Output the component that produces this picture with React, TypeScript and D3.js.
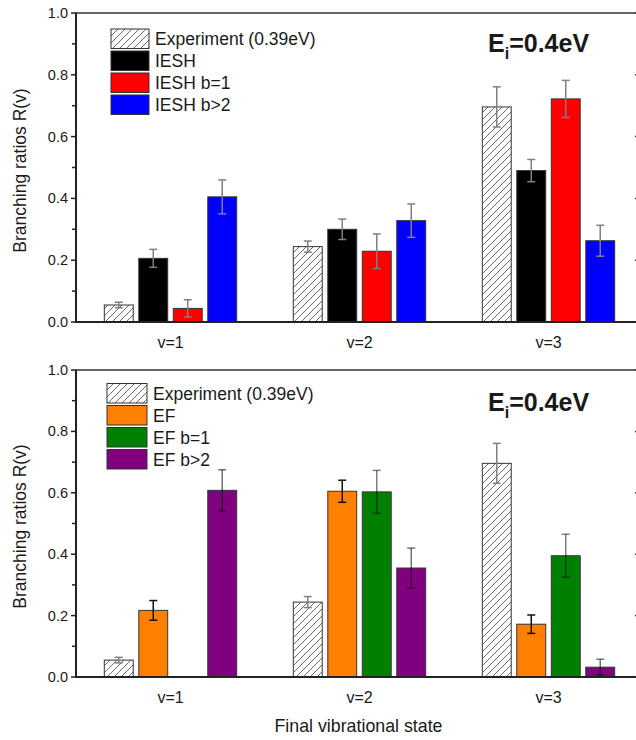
import React from "react";
import * as d3 from "d3";

const categories = ["v=1", "v=2", "v=3"];
const yTicks = [0, 0.2, 0.4, 0.6, 0.8, 1.0];
const yMinorTicks = [0.1, 0.3, 0.5, 0.7, 0.9];

const expValues = [0.055, 0.244, 0.696];
const expErr = [0.009, 0.018, 0.065];

const ieshValues = [0.206, 0.3, 0.49];
const ieshErr = [0.029, 0.033, 0.036];
const ieshB1Values = [0.044, 0.229, 0.722];
const ieshB1Err = [0.028, 0.056, 0.06];
const ieshB2Values = [0.405, 0.328, 0.263];
const ieshB2Err = [0.055, 0.054, 0.05];

const efValues = [0.217, 0.605, 0.172];
const efErr = [0.032, 0.036, 0.03];
const efB1Values: (number | null)[] = [null, 0.603, 0.395];
const efB1Err = [0, 0.07, 0.07];
const efB2Values = [0.608, 0.355, 0.032];
const efB2Err = [0.067, 0.065, 0.026];

const topLabels = ["Experiment (0.39eV)", "IESH", "IESH b=1", "IESH b>2"];
const bottomLabels = ["Experiment (0.39eV)", "EF", "EF b=1", "EF b>2"];

const FONT = "'Liberation Sans', Arial, sans-serif";
const TXT = "#1a1a1a";

type Series = {
  name: string;
  values: (number | null)[];
  err: number[];
  fill: string;
  errColor: string;
  errOpacity: number;
};

const x = d3.scaleLinear().domain([0.5, 3.5]).range([76, 643]);
const offsets = [-1.5, -0.5, 0.5, 1.5];
const step = 0.1825;
const barW = 0.153;

function Panel({
  top,
  bottom,
  series,
  legendX,
  legendY,
  legendW,
  eiY,
  showXTitle,
}: {
  top: number;
  bottom: number;
  series: Series[];
  legendX: number;
  legendY: number;
  legendW: number;
  eiY: number;
  showXTitle: boolean;
}) {
  const y = d3.scaleLinear().domain([0, 1]).range([bottom, top]);
  const left = 76;
  const right = 641;
  const bw = x(1 + barW) - x(1);
  return (
    <g>
      {/* bars */}
      {series.map((s, si) =>
        s.values.map((v, ci) => {
          if (v === null) return null;
          const cx = x(ci + 1 + offsets[si] * step);
          return (
            <rect
              key={`b${si}-${ci}`}
              x={cx - bw / 2}
              y={y(v)}
              width={bw}
              height={y(0) - y(v)}
              fill={s.fill}
              stroke="#333"
              strokeWidth={1}
            />
          );
        })
      )}
      {/* error bars */}
      {series.map((s, si) =>
        s.values.map((v, ci) => {
          if (v === null) return null;
          const cx = x(ci + 1 + offsets[si] * step);
          const e = s.err[ci];
          const y1 = y(v + e);
          const y2 = y(Math.max(0, v - e));
          return (
            <g
              key={`e${si}-${ci}`}
              stroke={s.errColor}
              strokeOpacity={s.errOpacity}
              strokeWidth={1.5}
            >
              <line x1={cx} x2={cx} y1={y1} y2={y2} />
              <line x1={cx - 4} x2={cx + 4} y1={y1} y2={y1} />
              <line x1={cx - 4} x2={cx + 4} y1={y2} y2={y2} />
            </g>
          );
        })
      )}
      {/* axes */}
      <line x1={left} x2={left} y1={top} y2={bottom} stroke="#222" strokeWidth={2} />
      <line x1={left - 1} x2={right} y1={bottom} y2={bottom} stroke="#222" strokeWidth={2} />
      <line x1={left - 1} x2={right} y1={top} y2={top} stroke="#333" strokeWidth={1.5} />
      <line x1={right} x2={right} y1={top} y2={bottom} stroke="#333" strokeWidth={1.5} />
      {yTicks.map((t) => (
        <g key={`t${t}`}>
          <line x1={left - 5} x2={left} y1={y(t)} y2={y(t)} stroke="#222" strokeWidth={1.5} />
          <line x1={right - 6} x2={right} y1={y(t)} y2={y(t)} stroke="#333" strokeWidth={1.5} />
          <text
            x={68}
            y={y(t)}
            dy="0.35em"
            textAnchor="end"
            fontFamily={FONT}
            fontSize={14.5}
            fill={TXT}
          >
            {d3.format(".1f")(t)}
          </text>
        </g>
      ))}
      {yMinorTicks.map((t) => (
        <line key={`m${t}`} x1={left - 4} x2={left} y1={y(t)} y2={y(t)} stroke="#222" strokeWidth={1.5} />
      ))}
      {categories.map((c, i) => (
        <text
          key={c}
          x={x(i + 1)}
          y={bottom + 25.5}
          textAnchor="middle"
          fontFamily={FONT}
          fontSize={16}
          fill={TXT}
        >
          {c}
        </text>
      ))}
      <text
        transform={`translate(25.5,${(top + bottom) / 2 + 3}) rotate(-90)`}
        textAnchor="middle"
        fontFamily={FONT}
        fontSize={17.5}
        fill={TXT}
      >
        Branching ratios R(v)
      </text>
      {showXTitle && (
        <text
          x={358.5}
          y={731.5}
          textAnchor="middle"
          fontFamily={FONT}
          fontSize={17.8}
          fill={TXT}
        >
          Final vibrational state
        </text>
      )}
      {/* legend */}
      {series.map((s, si) => (
        <g key={`l${si}`}>
          <rect
            x={legendX}
            y={legendY + si * 22}
            width={legendW}
            height={19.5}
            fill={s.fill}
            stroke="#333"
            strokeWidth={1}
          />
          <text
            x={legendX + legendW + 6}
            y={legendY + si * 22 + 16}
            fontFamily={FONT}
            fontSize={17.5}
            fill={TXT}
          >
            {s.name}
          </text>
        </g>
      ))}
      <text x={488} y={eiY} fontFamily={FONT} fontSize={25} fontWeight="bold" fill={TXT}>
        E
        <tspan fontSize={16} dy={7}>
          i
        </tspan>
        <tspan dy={-7}>=0.4eV</tspan>
      </text>
    </g>
  );
}

export default function App() {
  const topSeries: Series[] = [
    { name: topLabels[0], values: expValues, err: expErr, fill: "url(#hatch)", errColor: "#808080", errOpacity: 1 },
    { name: topLabels[1], values: ieshValues, err: ieshErr, fill: "#000000", errColor: "#808080", errOpacity: 1 },
    { name: topLabels[2], values: ieshB1Values, err: ieshB1Err, fill: "#ff0000", errColor: "#808080", errOpacity: 1 },
    { name: topLabels[3], values: ieshB2Values, err: ieshB2Err, fill: "#0000ff", errColor: "#808080", errOpacity: 1 },
  ];
  const bottomSeries: Series[] = [
    { name: bottomLabels[0], values: expValues, err: expErr, fill: "url(#hatch)", errColor: "#808080", errOpacity: 1 },
    { name: bottomLabels[1], values: efValues, err: efErr, fill: "#ff8000", errColor: "#111111", errOpacity: 1 },
    { name: bottomLabels[2], values: efB1Values, err: efB1Err, fill: "#008000", errColor: "#000000", errOpacity: 0.5 },
    { name: bottomLabels[3], values: efB2Values, err: efB2Err, fill: "#800080", errColor: "#000000", errOpacity: 0.55 },
  ];
  return (
    <svg
      width={636}
      height={740}
      style={{ position: "absolute", left: 0, top: 0, background: "#fff" }}
    >
      <defs>
        <pattern id="hatch" patternUnits="userSpaceOnUse" width={7} height={7}>
          <rect width={7} height={7} fill="#fff" />
          <path d="M-1,1 l2,-2 M0,7 l7,-7 M6,8 l2,-2" stroke="#444" strokeWidth={0.8} />
        </pattern>
      </defs>
      <rect width={636} height={740} fill="#fff" />
      <Panel
        top={13}
        bottom={322}
        series={topSeries}
        legendX={111}
        legendY={29}
        legendW={38}
        eiY={52}
        showXTitle={false}
      />
      <Panel
        top={370}
        bottom={677}
        series={bottomSeries}
        legendX={107}
        legendY={383.5}
        legendW={40}
        eiY={411}
        showXTitle={true}
      />
    </svg>
  );
}
